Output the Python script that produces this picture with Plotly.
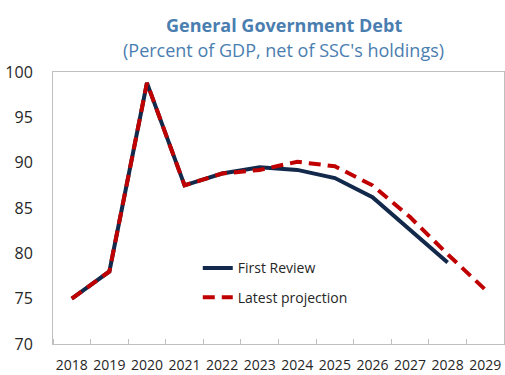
import plotly.graph_objects as go

years = [2018, 2019, 2020, 2021, 2022, 2023, 2024, 2025, 2026, 2027, 2028, 2029]
first_review = [75.0, 78.0, 98.8, 87.5, 88.8, 89.5, 89.2, 88.3, 86.2, 82.6, 79.0, None]
latest_projection = [75.0, 78.0, 98.8, 87.5, 88.8, 89.2, 90.1, 89.6, 87.5, 84.0, 79.9, 76.0]

title_color = "#4a7eb0"
font_family = "Open Sans, Noto Sans, sans-serif"

fig = go.Figure()
fig.add_trace(go.Scatter(
    x=years, y=first_review, mode="lines", name="First Review", legendgroup="a",
    line=dict(color="#13294b", width=4),
))
fig.add_trace(go.Scatter(
    x=years, y=latest_projection, mode="lines", name="Latest projection", legendgroup="b",
    line=dict(color="#c00000", width=4, dash="12px,7px"),
))

fig.update_layout(
    width=505, height=375,
    margin=dict(l=53, r=1, t=72, b=31),
    paper_bgcolor="white", plot_bgcolor="white",
    font=dict(family=font_family, color="#262626", size=15),
    showlegend=True,
    legend=dict(x=0.321, y=0.337, xanchor="left", yanchor="top",
                bgcolor="rgba(0,0,0,0)", font=dict(size=14, color="#262626"),
                tracegroupgap=8),
    annotations=[
        dict(text="<b>General Government Debt</b>", x=0.512, y=1.0, xref="paper", yref="paper",
             yanchor="bottom", yshift=33, showarrow=False,
             font=dict(size=18, color=title_color, family=font_family)),
        dict(text="(Percent of GDP, net of SSC's holdings)", x=0.512, y=1.0, xref="paper", yref="paper",
             yanchor="bottom", yshift=8, showarrow=False,
             font=dict(size=18, color=title_color, family=font_family)),
    ],
)

fig.update_xaxes(
    range=[2017.5, 2029.5], tickmode="array", tickvals=years,
    ticktext=[str(y) for y in years], ticks="",
    showline=True, linecolor="#bfbfbf", linewidth=1, mirror=True,
    showgrid=False, zeroline=False,
    tickfont=dict(size=14, color="#262626"),
    ticklabelstandoff=8,
    minor=dict(tick0=2017.5, dtick=1, ticks="inside", ticklen=5,
               tickcolor="#bfbfbf", tickwidth=1, showgrid=False),
)
fig.update_yaxes(
    range=[70, 100], tickmode="array", tickvals=[70, 75, 80, 85, 90, 95, 100],
    ticks="", showline=True, linecolor="#bfbfbf", linewidth=1, mirror=True,
    showgrid=False, zeroline=False,
    tickfont=dict(size=16, color="#262626"),
    ticklabelstandoff=16,
)

fig.write_html("out.html")
